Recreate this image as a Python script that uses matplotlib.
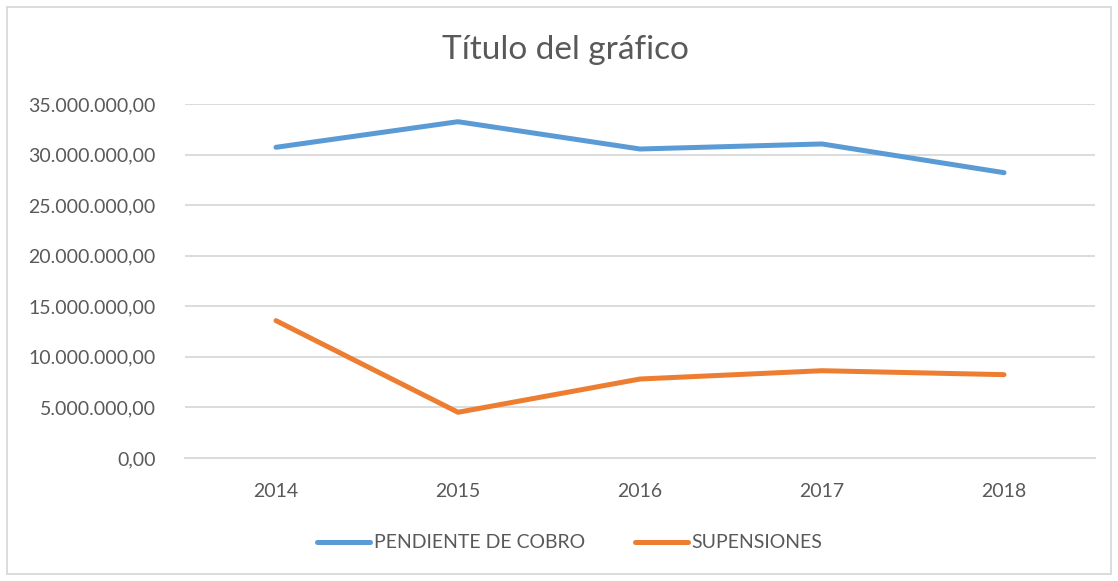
import matplotlib
matplotlib.use("Agg")
import matplotlib.pyplot as plt
from matplotlib.patches import Rectangle
from matplotlib.ticker import FuncFormatter, MultipleLocator

# ---------- data ----------
years = ["2014", "2015", "2016", "2017", "2018"]
pendiente = [30720000, 33250000, 30550000, 31050000, 28210000]
suspensiones = [13580000, 4520000, 7810000, 8630000, 8240000]

BLUE = "#5B9BD5"
ORANGE = "#ED7D31"
GRID = "#D9D9D9"
TXT = "#595959"

plt.rcParams["font.family"] = ["Lato", "DejaVu Sans"]


def fmt_es(v, pos):
    # 35.000.000,00 style
    s = "{:,.2f}".format(v)
    return s.replace(",", "X").replace(".", ",").replace("X", ".")


fig = plt.figure(figsize=(11.18, 5.81), dpi=100)
W, H = 1118, 581
ax = fig.add_axes([185 / W, 1 - 458 / H, 910 / W, 354 / H])

x = list(range(len(years)))
ax.plot(x, pendiente, color=BLUE, lw=3.6, solid_capstyle="round",
        solid_joinstyle="round", label="PENDIENTE DE COBRO")
ax.plot(x, suspensiones, color=ORANGE, lw=3.6, solid_capstyle="round",
        solid_joinstyle="round", label="SUPENSIONES")

ax.set_xlim(-0.5, len(years) - 0.5)
ax.set_ylim(0, 35000000)
ax.yaxis.set_major_locator(MultipleLocator(5000000))
ax.yaxis.set_major_formatter(FuncFormatter(fmt_es))
ax.set_xticks(x)
ax.set_xticklabels(years)

ax.grid(axis="y", color=GRID, lw=1.3)
ax.set_axisbelow(True)
for side in ["top", "right", "left"]:
    ax.spines[side].set_visible(False)
ax.spines["bottom"].set_color(GRID)
ax.spines["bottom"].set_linewidth(1.3)
ax.tick_params(axis="both", length=0, labelsize=14, colors=TXT)
ax.tick_params(axis="y", pad=21)
ax.tick_params(axis="x", pad=18)

fig.text(565 / W, 1 - 50 / H, "Título del gráfico", ha="center", va="center",
         fontsize=24, color=TXT)

leg = fig.legend(loc="center", bbox_to_anchor=(570 / W, 1 - 543 / H), ncol=2,
                 frameon=False, fontsize=14, handlelength=2.7, handletextpad=0.2,
                 columnspacing=2.6)
for t in leg.get_texts():
    t.set_color(TXT)

fig.patches.append(Rectangle((7 / W, 7 / H), 1104 / W, 567 / H, transform=fig.transFigure,
                             fill=False, edgecolor=GRID, lw=1.3))

fig.savefig("out.png", dpi=100, facecolor="white")
